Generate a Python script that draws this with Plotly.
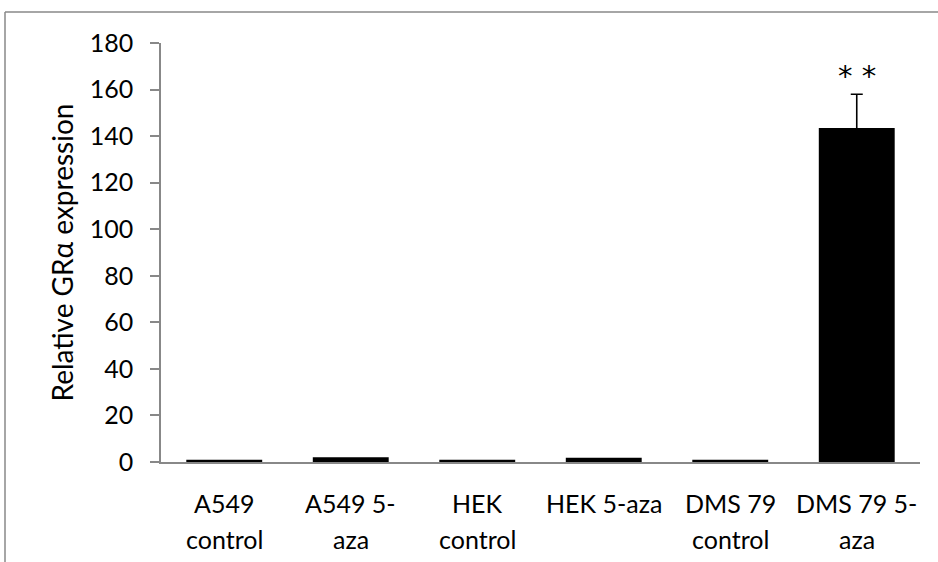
import plotly.graph_objects as go

categories = ["A549 control", "A549 5-aza", "HEK control",
              "HEK 5-aza", "DMS 79 control", "DMS 79 5-aza"]
label_line1 = ["A549", "A549 5-", "HEK", "HEK 5-aza", "DMS 79", "DMS 79 5-"]
label_line2 = ["control", "aza", "control", "", "control", "aza"]
values = [1.0, 2.0, 1.0, 1.8, 1.0, 143.5]
errors_up = [0, 0, 0, 0, 0, 14.5]
sig_label = "* *"
sig_y = 166
y_ticks = [0, 20, 40, 60, 80, 100, 120, 140, 160, 180]

W, H = 938, 562
ml, mr, mt, mb = 161, 18, 43, 100
pw, ph = W - ml - mr, H - mt - mb

def px_to_paper_x(px):
    return (px - ml) / pw

def px_to_paper_y(py):
    return (H - mb - py) / ph

FONT = "Lato, Calibri, Carlito, sans-serif"
AXIS_GREY = "#888888"
LABEL_SIZE = 25

fig = go.Figure(
    go.Bar(
        x=categories,
        y=values,
        width=0.6,
        marker=dict(color="black", line=dict(width=0)),
    )
)

# upper error whiskers, only where an error was measured
err_idx = [i for i, e in enumerate(errors_up) if e > 0]
fig.add_trace(go.Scatter(
    x=[categories[i] for i in err_idx],
    y=[values[i] for i in err_idx],
    mode="markers", marker=dict(size=0.1, color="black", opacity=0),
    error_y=dict(type="data", array=[errors_up[i] for i in err_idx],
                 color="black", thickness=1.6, width=6),
    hoverinfo="skip",
))

# significance marker above the treated DMS 79 bar
fig.add_annotation(x=categories[-1], y=sig_y, text=sig_label, showarrow=False,
                   font=dict(size=29, color="black", family="DejaVu Sans"),
                   yanchor="middle")

# two-line category labels under the axis
for cat, l1, l2 in zip(categories, label_line1, label_line2):
    fig.add_annotation(x=cat, y=0, yref="paper", text=l1, showarrow=False,
                       yanchor="middle", yshift=-41,
                       font=dict(size=LABEL_SIZE, family=FONT, color="black"))
    if l2:
        fig.add_annotation(x=cat, y=0, yref="paper", text=l2, showarrow=False,
                           yanchor="middle", yshift=-77,
                           font=dict(size=LABEL_SIZE, family=FONT, color="black"))

# outer chart-area frame (left and top edges visible)
left = px_to_paper_x(5)
top = px_to_paper_y(12)
fig.add_shape(type="line", xref="paper", yref="paper",
              x0=left, x1=left, y0=top, y1=px_to_paper_y(H + 5),
              line=dict(color=AXIS_GREY, width=1.5))
fig.add_shape(type="line", xref="paper", yref="paper",
              x0=left, x1=px_to_paper_x(W + 5), y0=top, y1=top,
              line=dict(color=AXIS_GREY, width=1.5))

fig.update_layout(
    width=W, height=H,
    margin=dict(l=ml, r=mr, t=mt, b=mb),
    paper_bgcolor="white", plot_bgcolor="white",
    showlegend=False,
    font=dict(family=FONT, size=LABEL_SIZE, color="black"),
    bargap=0.4,
)
fig.update_yaxes(
    range=[0, 180], tickvals=y_ticks, showgrid=False, zeroline=False,
    showline=True, linecolor=AXIS_GREY, linewidth=1.5,
    ticks="outside", ticklen=9, tickcolor=AXIS_GREY, tickwidth=1.5,
    ticklabelstandoff=12,
    tickfont=dict(size=LABEL_SIZE, family=FONT),
    title=dict(text="Relative GRα expression", font=dict(size=28, family=FONT),
               standoff=8),
)
fig.update_xaxes(
    showgrid=False, showline=True, linecolor=AXIS_GREY, linewidth=1.5,
    ticks="", showticklabels=False,
)

fig.write_html("out.html")
